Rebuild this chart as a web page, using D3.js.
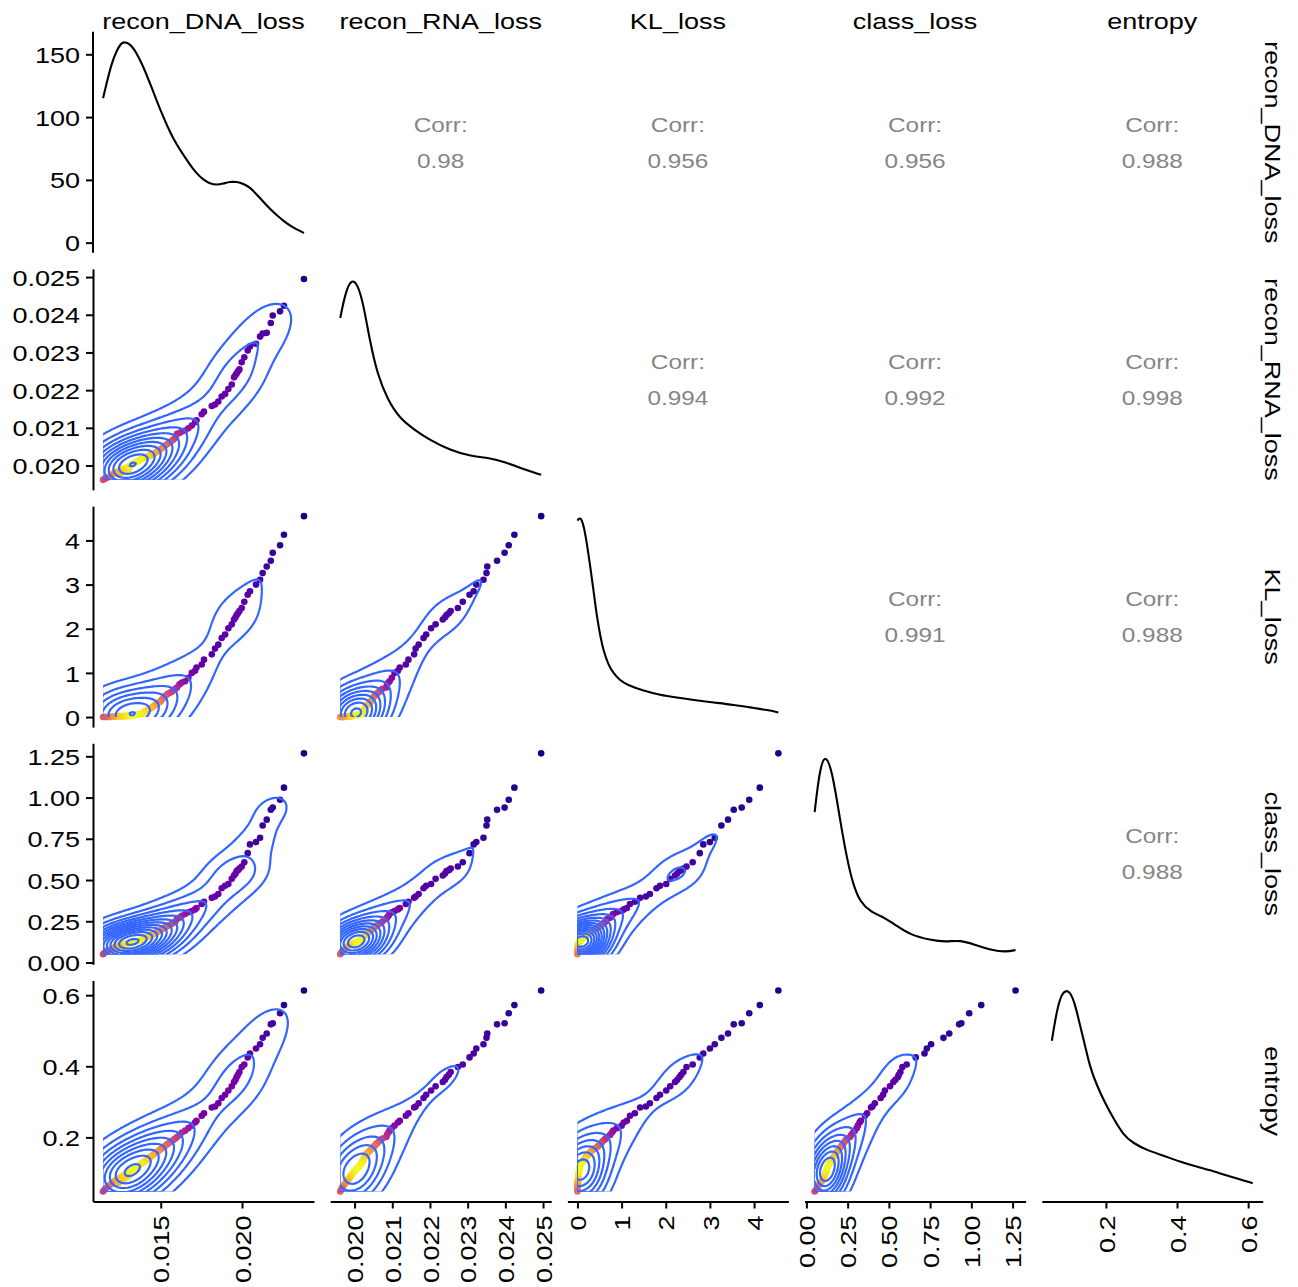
<!DOCTYPE html>
<html>
<head>
<meta charset="utf-8">
<script src="https://cdn.jsdelivr.net/npm/d3@7"></script>
<style>
  body { margin: 0; background: #fff; }
  svg text { font-family: "Liberation Sans", Arial, Helvetica, sans-serif; }
</style>
</head>
<body>
<svg id="chart" width="1298" height="1287"></svg>
<script>
// Variables of the pair matrix, in display order
const variables = ["recon_DNA_loss", "recon_RNA_loss", "KL_loss", "class_loss", "entropy"];

// One value per observation, same order in every array
const reconDNA = [
  0.02381, 0.02258, 0.02234, 0.02189, 0.02177, 0.02152, 0.02127, 0.02111, 0.02086, 0.02049,
  0.02035, 0.02014, 0.01998, 0.01984, 0.01975, 0.01967, 0.01960, 0.01951, 0.01937, 0.01916,
  0.01896, 0.01875, 0.01854, 0.01834, 0.01814, 0.01766, 0.01752, 0.01720, 0.01711, 0.01691,
  0.01670, 0.01650, 0.01630, 0.01615, 0.01600,
  0.01590, 0.01578, 0.01566, 0.01553, 0.01541, 0.01530, 0.01521, 0.01510, 0.01500, 0.01492,
  0.01482, 0.01474, 0.01465, 0.01459, 0.01450, 0.01444, 0.01438, 0.01432, 0.01427, 0.01421,
  0.01414, 0.01408, 0.01402, 0.01396, 0.01391, 0.01386, 0.01380, 0.01374, 0.01368, 0.01362,
  0.01356, 0.01349, 0.01342, 0.01335, 0.01328, 0.01321, 0.01314, 0.01308, 0.01302, 0.01296,
  0.01289, 0.01283, 0.01276, 0.01270, 0.01305, 0.01262, 0.01292, 0.01255, 0.01248, 0.01280,
  0.01241, 0.01234, 0.01268, 0.01227, 0.01220, 0.01258, 0.01213, 0.01206, 0.01240, 0.01199,
  0.01192, 0.01185, 0.01175, 0.01168, 0.01160, 0.01153, 0.01145
];
const reconRNA = [
  0.02495, 0.02424, 0.02409, 0.02398, 0.02378, 0.02352, 0.02350, 0.02342, 0.02323, 0.02316,
  0.02305, 0.02287, 0.02274, 0.02255, 0.02250, 0.02244, 0.02240, 0.02234, 0.02215, 0.02203,
  0.02190, 0.02183, 0.02170, 0.02162, 0.02158, 0.02143, 0.02136, 0.02120, 0.02115, 0.02106,
  0.02099, 0.02093, 0.02090, 0.02086, 0.02084,
  0.02074, 0.02069, 0.02065, 0.02061, 0.02057, 0.02054, 0.02051, 0.02047, 0.02044, 0.02042,
  0.02039, 0.02036, 0.02033, 0.02031, 0.02030, 0.02029, 0.02028, 0.02026, 0.02025, 0.02024,
  0.02023, 0.02022, 0.02021, 0.02020, 0.02019, 0.02018, 0.02017, 0.02015, 0.02014, 0.02012,
  0.02011, 0.02009, 0.02007, 0.02005, 0.02004, 0.02002, 0.02000, 0.01999, 0.01997, 0.01996,
  0.01994, 0.01993, 0.01992, 0.01991, 0.01990, 0.01989, 0.01988, 0.01987, 0.01987, 0.01986,
  0.01985, 0.01984, 0.01983, 0.01982, 0.01981, 0.01980, 0.01979, 0.01978, 0.01976, 0.01975,
  0.01973, 0.01971, 0.01969, 0.01967, 0.01966, 0.01964, 0.01962
];
const klLoss = [
  4.55, 4.13, 3.89, 3.72, 3.54, 3.41, 3.26, 3.11, 3.00, 2.85,
  2.77, 2.61, 2.47, 2.40, 2.35, 2.31, 2.26, 2.21, 2.10, 2.01,
  1.87, 1.79, 1.64, 1.55, 1.42, 1.30, 1.19, 1.12, 1.05, 1.00,
  0.89, 0.81, 0.78, 0.74, 0.67,
  0.64, 0.61, 0.57, 0.545, 0.52, 0.48, 0.46, 0.41, 0.36, 0.34,
  0.31, 0.29, 0.27, 0.25, 0.23, 0.21, 0.20, 0.18, 0.17, 0.16,
  0.15, 0.14, 0.13, 0.11, 0.09, 0.08, 0.07, 0.07, 0.06, 0.06,
  0.05, 0.05, 0.05, 0.04, 0.04, 0.04, 0.04, 0.03, 0.03, 0.03,
  0.03, 0.03, 0.02, 0.02, 0.02, 0.02, 0.02, 0.02, 0.02, 0.02,
  0.02, 0.02, 0.01, 0.01, 0.01, 0.01, 0.01, 0.01, 0.01, 0.01,
  0.00, 0.00, 0.00, 0.00, 0.00, 0.00, 0.00
];
const classLoss = [
  1.268, 1.060, 0.987, 0.939, 0.926, 0.866, 0.831, 0.756, 0.730, 0.716,
  0.663, 0.608, 0.582, 0.570, 0.560, 0.555, 0.540, 0.527, 0.507, 0.476,
  0.465, 0.450, 0.415, 0.400, 0.392, 0.368, 0.355, 0.330, 0.322, 0.312,
  0.305, 0.294, 0.283, 0.272, 0.264,
  0.248, 0.241, 0.234, 0.227, 0.221, 0.215, 0.210, 0.203, 0.197, 0.192,
  0.188, 0.183, 0.179, 0.176, 0.172, 0.169, 0.166, 0.162, 0.159, 0.157,
  0.154, 0.151, 0.149, 0.146, 0.143, 0.141, 0.138, 0.135, 0.132, 0.131,
  0.129, 0.128, 0.126, 0.125, 0.123, 0.122, 0.120, 0.120, 0.118, 0.117,
  0.115, 0.114, 0.113, 0.112, 0.111, 0.110, 0.109, 0.108, 0.107, 0.104,
  0.102, 0.101, 0.098, 0.097, 0.095, 0.092, 0.091, 0.088, 0.085, 0.082,
  0.079, 0.075, 0.071, 0.067, 0.063, 0.057, 0.050
];
const entropy = [
  0.613, 0.572, 0.549, 0.521, 0.518, 0.492, 0.480, 0.462, 0.450, 0.436,
  0.425, 0.405, 0.398, 0.384, 0.376, 0.370, 0.362, 0.356, 0.344, 0.332,
  0.320, 0.311, 0.296, 0.287, 0.284, 0.268, 0.261, 0.247, 0.242, 0.233,
  0.226, 0.219, 0.214, 0.207, 0.201,
  0.197, 0.193, 0.189, 0.185, 0.181, 0.177, 0.174, 0.170, 0.167, 0.164,
  0.161, 0.158, 0.155, 0.153, 0.150, 0.148, 0.146, 0.143, 0.141, 0.139,
  0.137, 0.135, 0.133, 0.131, 0.129, 0.127, 0.125, 0.123, 0.121, 0.119,
  0.117, 0.115, 0.113, 0.111, 0.109, 0.107, 0.105, 0.104, 0.102, 0.100,
  0.098, 0.097, 0.095, 0.094, 0.092, 0.091, 0.089, 0.088, 0.087, 0.085,
  0.084, 0.083, 0.081, 0.080, 0.079, 0.077, 0.076, 0.074, 0.072, 0.070,
  0.068, 0.065, 0.062, 0.059, 0.056, 0.052, 0.048
];

// Kernel-density curves of the diagonal panels: sample positions and heights.
// recon_DNA_loss is in density units (its axis is shown); the others are relative to their peak.
const dnaDensityX = [0.01145, 0.01167, 0.01198, 0.01229, 0.01254, 0.01274, 0.01311, 0.01352, 0.01393, 0.01434,
  0.01475, 0.01516, 0.01557, 0.01598, 0.01639, 0.01680, 0.01721, 0.01762, 0.01803, 0.01844, 0.01885,
  0.01926, 0.01967, 0.02008, 0.02049, 0.02090, 0.02131, 0.02172, 0.02213, 0.02254, 0.02295, 0.02336, 0.02381];
const dnaDensityY = [115, 127, 143, 153, 158.5, 160, 158.5, 151, 140, 127,
  113, 100, 88, 78, 70, 62, 55, 50, 47, 46, 47,
  48.5, 48.5, 47, 44, 38.5, 32.5, 27, 22, 17.5, 13.5, 10.5, 7.7];
const rnaDensityX = [0.01962, 0.01976, 0.01992, 0.02008, 0.02024, 0.02040, 0.02061, 0.02088, 0.02119,
  0.02159, 0.02199, 0.02252, 0.02305, 0.02358, 0.02398, 0.02438, 0.02495];
const rnaDensityY = [0.806, 0.935, 1.0, 0.975, 0.870, 0.696, 0.522, 0.398, 0.308,
  0.249, 0.199, 0.149, 0.119, 0.109, 0.090, 0.060, 0.025];
const klDensityX = [0.0, 0.076, 0.17, 0.29, 0.37, 0.44, 0.52, 0.59, 0.70, 0.81, 0.95, 1.12,
  1.50, 1.87, 2.25, 2.62, 3.10, 3.53, 4.00, 4.30, 4.55];
const klDensityY = [0.978, 1.0, 0.93, 0.75, 0.62, 0.50, 0.40, 0.33, 0.26, 0.22, 0.185, 0.16,
  0.13, 0.11, 0.097, 0.085, 0.072, 0.061, 0.045, 0.035, 0.023];
const classDensityX = [0.050, 0.080, 0.113, 0.156, 0.204, 0.247, 0.284, 0.326, 0.387, 0.478, 0.539,
  0.630, 0.752, 0.843, 0.934, 1.026, 1.117, 1.208, 1.268];
const classDensityY = [0.708, 0.917, 1.0, 0.917, 0.668, 0.470, 0.345, 0.260, 0.211, 0.181, 0.146,
  0.096, 0.071, 0.061, 0.071, 0.046, 0.022, 0.011, 0.021];
const entropyDensityX = [0.048, 0.062, 0.076, 0.088, 0.099, 0.113, 0.127, 0.141, 0.155, 0.174, 0.198,
  0.221, 0.249, 0.277, 0.315, 0.362, 0.408, 0.455, 0.502, 0.549, 0.613];
const entropyDensityY = [0.750, 0.903, 0.986, 1.0, 0.994, 0.936, 0.828, 0.729, 0.621, 0.530, 0.439,
  0.364, 0.281, 0.240, 0.206, 0.178, 0.148, 0.123, 0.102, 0.074, 0.041];

// Tick positions and labels for each variable's axis
const dnaTicks = [0.015, 0.020];
const dnaTickLabels = ["0.015", "0.020"];
const rnaTicks = [0.020, 0.021, 0.022, 0.023, 0.024, 0.025];
const rnaTickLabels = ["0.020", "0.021", "0.022", "0.023", "0.024", "0.025"];
const klTicks = [0, 1, 2, 3, 4];
const klTickLabels = ["0", "1", "2", "3", "4"];
const classTicks = [0, 0.25, 0.5, 0.75, 1.0, 1.25];
const classTickLabels = ["0.00", "0.25", "0.50", "0.75", "1.00", "1.25"];
const entropyTicks = [0.2, 0.4, 0.6];
const entropyTickLabels = ["0.2", "0.4", "0.6"];
// Top-left axis shows the density scale of the first diagonal panel
const densityTicks = [0, 50, 100, 150];
const densityTickLabels = ["0", "50", "100", "150"];

// Correlation labels of the upper triangle, row by row
const corrValues = ["0.98", "0.956", "0.956", "0.988", "0.994", "0.992", "0.998", "0.991", "0.988", "0.988"];

// ---------------------------------------------------------------------------
const W = 1298, H = 1287;
const PANEL = 221, STEP = 237.2, LEFT = 93, TOP = 31.7;
const TEXT_SIZE = "22.5px", CORR_SIZE = "20.3px", TEXT_WIDEN = 1.2;
const CONTOUR_COLOR = "#3366FF";
const MAX_CONTOURS = 13;

const columns = [reconDNA, reconRNA, klLoss, classLoss, entropy];
const diagX = [dnaDensityX, rnaDensityX, klDensityX, classDensityX, entropyDensityX];
const diagY = [dnaDensityY, rnaDensityY, klDensityY, classDensityY, entropyDensityY];
const ticksFor = [dnaTicks, rnaTicks, klTicks, classTicks, entropyTicks];
const labelsFor = [dnaTickLabels, rnaTickLabels, klTickLabels, classTickLabels, entropyTickLabels];
const N = entropy.length;

function expanded(a) {
  const [lo, hi] = d3.extent(a);
  const pad = (hi - lo) * 0.05;
  return [lo - pad, hi + pad];
}
const xScales = columns.map((a, i) =>
  d3.scaleLinear().domain(expanded(a)).range([LEFT + i * STEP, LEFT + i * STEP + PANEL]));
const yScales = columns.map((a, i) =>
  d3.scaleLinear().domain(expanded(a)).range([TOP + i * STEP + PANEL, TOP + i * STEP]));

// --- 2-D kernel density (MASS::kde2d style, normal-reference bandwidth) -----
function quantile7(a, p) {
  const s = a.slice().sort((x, y) => x - y);
  const h = (s.length - 1) * p, lo = Math.floor(h), hi = Math.min(lo + 1, s.length - 1);
  return s[lo] + (h - lo) * (s[hi] - s[lo]);
}
function bandwidthNrd(a) {
  const r = quantile7(a, 0.75) - quantile7(a, 0.25);
  return 4 * 1.06 * Math.min(d3.deviation(a), r / 1.34) * Math.pow(a.length, -0.2);
}
const SQ2PI = Math.sqrt(2 * Math.PI);
const gauss = u => Math.exp(-0.5 * u * u) / SQ2PI;

function kde2d(xs, ys, n = 100) {
  const hx = bandwidthNrd(xs) / 4, hy = bandwidthNrd(ys) / 4;
  const [x0, x1] = d3.extent(xs), [y0, y1] = d3.extent(ys);
  const gx = d3.range(n).map(i => x0 + (x1 - x0) * i / (n - 1));
  const gy = d3.range(n).map(j => y0 + (y1 - y0) * j / (n - 1));
  const ax = gx.map(g => xs.map(v => gauss((g - v) / hx)));
  const ay = gy.map(g => ys.map(v => gauss((g - v) / hy)));
  const z = new Array(n * n);
  const k = xs.length;
  for (let j = 0; j < n; j++) {
    const ayj = ay[j];
    for (let i = 0; i < n; i++) {
      const axi = ax[i];
      let s = 0;
      for (let m = 0; m < k; m++) s += axi[m] * ayj[m];
      z[j * n + i] = s / (k * hx * hy);
    }
  }
  const atPoints = xs.map((xv, p) => {
    let s = 0;
    for (let m = 0; m < k; m++) s += gauss((xv - xs[m]) / hx) * gauss((ys[p] - ys[m]) / hy);
    return s / (k * hx * hy);
  });
  return { z, n, x0, x1, y0, y1, atPoints };
}

// R's pretty() break rule, used for the contour levels
function prettyBreaks(lo, up, ndiv = 10) {
  const h = 1.5, h5 = 0.5 + 1.5 * h;
  const cell = (up - lo) / ndiv;
  const U = Math.pow(10, Math.floor(Math.log10(cell)));
  let unit = U, ns;
  if ((ns = 2 * U) - cell < h * (cell - unit)) {
    unit = ns;
    if ((ns = 5 * U) - cell < h5 * (cell - unit)) {
      unit = ns;
      if ((ns = 10 * U) - cell < h * (cell - unit)) unit = ns;
    }
  }
  let a = Math.floor(lo / unit + 1e-7), b = Math.ceil(up / unit - 1e-7);
  while (a * unit > lo + 1e-10 * unit) a--;
  while (b * unit < up - 1e-10 * unit) b++;
  return d3.range(a, b + 1).map(q => q * unit);
}

// Contour levels: pretty breaks inside the density range, thinned when too many
function contourLevels(zmin, zmax) {
  let levels = prettyBreaks(zmin, zmax, 10).filter(v => v > zmin && v < zmax);
  if (levels.length > MAX_CONTOURS) levels = levels.filter((v, i) => i % 2 === 1);
  return levels;
}

// Widen glyphs horizontally along the reading direction
function widen(sel, factor = TEXT_WIDEN) {
  sel.each(function () {
    const w = this.getComputedTextLength();
    if (w > 0) {
      this.setAttribute("textLength", (w * factor).toFixed(2));
      this.setAttribute("lengthAdjust", "spacingAndGlyphs");
    }
  });
}

// --- drawing ---------------------------------------------------------------
const svg = d3.select("#chart");
svg.append("rect").attr("width", W).attr("height", H).attr("fill", "#fff");
const defs = svg.append("defs");

let corrIndex = 0;
let densityScaleRow0 = null;

for (let r = 0; r < 5; r++) {
  for (let c = 0; c < 5; c++) {
    const left = LEFT + c * STEP, top = TOP + r * STEP;
    const g = svg.append("g").attr("class", `panel r${r} c${c}`);

    if (r === c) {
      // diagonal: density curve of the variable
      const xs = diagX[c], ys = diagY[c];
      const dmax = d3.max(ys);
      const sy = d3.scaleLinear().domain([-0.05 * dmax, 1.05 * dmax]).range([top + PANEL, top]);
      if (r === 0) densityScaleRow0 = sy;
      g.append("path")
        .datum(d3.range(xs.length))
        .attr("fill", "none")
        .attr("stroke", "#000")
        .attr("stroke-width", 2.1)
        .attr("stroke-linejoin", "round")
        .attr("d", d3.line().curve(d3.curveBasis)
          .x(i => xScales[c](xs[i])).y(i => sy(ys[i])));
    } else if (r > c) {
      // lower: points coloured by local 2-D density, with density contours
      const xs = columns[c], ys = columns[r];
      const sx = xScales[c], sy = yScales[r];
      const k = kde2d(xs, ys, 100);
      const [pmin, pmax] = d3.extent(k.atPoints);
      const color = v => d3.interpolatePlasma((v - pmin) / (pmax - pmin));

      g.append("g").selectAll("circle")
        .data(d3.range(N))
        .join("circle")
        .attr("cx", i => sx(xs[i]))
        .attr("cy", i => sy(ys[i]))
        .attr("r", 3.3)
        .attr("fill", i => color(k.atPoints[i]));

      const [zmin, zmax] = d3.extent(k.z);
      const contours = d3.contours().size([k.n, k.n]).thresholds(contourLevels(zmin, zmax))(k.z);
      const stepX = (k.x1 - k.x0) / (k.n - 1), stepY = (k.y1 - k.y0) / (k.n - 1);
      const proj = d3.geoTransform({
        point(cx, cy) {
          this.stream.point(sx(k.x0 + (cx - 0.5) * stepX), sy(k.y0 + (cy - 0.5) * stepY));
        }
      });
      const clipId = `clip-${r}-${c}`;
      defs.append("clipPath").attr("id", clipId)
        .append("rect")
        .attr("x", sx(k.x0)).attr("y", sy(k.y1))
        .attr("width", sx(k.x1) - sx(k.x0))
        .attr("height", sy(k.y0) - sy(k.y1));
      g.append("g")
        .attr("clip-path", `url(#${clipId})`)
        .selectAll("path")
        .data(contours)
        .join("path")
        .attr("fill", "none")
        .attr("stroke", CONTOUR_COLOR)
        .attr("stroke-width", 2.2)
        .attr("stroke-linejoin", "round")
        .attr("d", d3.geoPath(proj));
    } else {
      // upper: correlation text
      const cx = left + PANEL / 2, cy = top + PANEL / 2;
      const t = g.append("g")
        .attr("fill", "#858585")
        .attr("font-size", CORR_SIZE)
        .attr("text-anchor", "middle");
      t.append("text").attr("x", cx).attr("y", cy - 18).attr("dy", "0.36em").text("Corr:");
      t.append("text").attr("x", cx).attr("y", cy + 18).attr("dy", "0.36em").text(corrValues[corrIndex++]);
      widen(t.selectAll("text"));
    }
  }
}

// --- axes --------------------------------------------------------------------
function styleAxis(sel) {
  sel.select(".domain").attr("stroke", "#000").attr("stroke-width", 2);
  sel.selectAll(".tick line").attr("stroke", "#000").attr("stroke-width", 2);
  sel.selectAll(".tick text")
    .attr("fill", "#000")
    .attr("font-size", TEXT_SIZE)
    .attr("font-family", null);
}

for (let r = 0; r < 5; r++) {
  const scale = r === 0 ? densityScaleRow0 : yScales[r];
  const vals = r === 0 ? densityTicks : ticksFor[r];
  const labs = r === 0 ? densityTickLabels : labelsFor[r];
  const ax = svg.append("g")
    .attr("transform", `translate(${LEFT},0)`)
    .call(d3.axisLeft(scale).tickValues(vals).tickFormat((d, i) => labs[i])
      .tickSize(7).tickSizeOuter(0).tickPadding(6));
  if (r === 0) ax.select(".domain").attr("d", `M0,${TOP + PANEL}V${TOP}`);
  styleAxis(ax);
  ax.selectAll(".tick text").attr("dy", "0.36em");
  widen(ax.selectAll(".tick text"));
}

const AXIS_Y = TOP + 4 * STEP + PANEL;
for (let c = 0; c < 5; c++) {
  const ax = svg.append("g")
    .attr("transform", `translate(0,${AXIS_Y})`)
    .call(d3.axisBottom(xScales[c]).tickValues(ticksFor[c]).tickFormat((d, i) => labelsFor[c][i])
      .tickSize(7).tickSizeOuter(0));
  styleAxis(ax);
  ax.selectAll(".tick text")
    .attr("transform", "rotate(-90)")
    .attr("text-anchor", "end")
    .attr("x", -14)
    .attr("y", 0)
    .attr("dy", "0.36em");
  widen(ax.selectAll(".tick text"));
}

// --- strip labels ------------------------------------------------------------
const topStrips = svg.append("g").selectAll("text")
  .data(variables)
  .join("text")
  .attr("x", (d, i) => LEFT + i * STEP + PANEL / 2)
  .attr("y", 29)
  .attr("text-anchor", "middle")
  .attr("font-size", TEXT_SIZE)
  .attr("fill", "#000")
  .text(d => d);
widen(topStrips);

const sideStrips = svg.append("g").selectAll("text")
  .data(variables)
  .join("text")
  .attr("transform", (d, i) => `translate(1265,${TOP + i * STEP + PANEL / 2}) rotate(90)`)
  .attr("text-anchor", "middle")
  .attr("font-size", TEXT_SIZE)
  .attr("fill", "#000")
  .text(d => d);
widen(sideStrips);
</script>
</body>
</html>
